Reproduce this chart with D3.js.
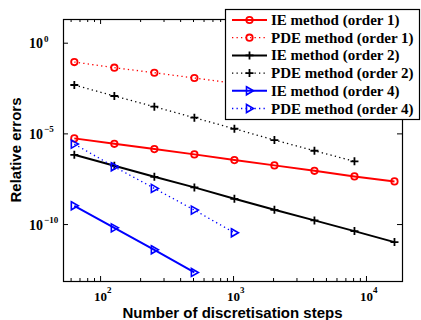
<!DOCTYPE html>
<html>
<head>
<meta charset="utf-8">
<script src="https://cdn.jsdelivr.net/npm/d3@7"></script>
<style>
  body { margin: 0; background: #fff; }
  svg { display: block; }
</style>
</head>
<body>
<div id="chart"></div>
<script>
var svgWidth = 421;
var svgHeight = 320;

// discretisation steps (x values)
var steps = [64, 128, 256, 512, 1024, 2048, 4096, 8192, 16384];

// relative errors
var ieOrder1 = [5.3e-6, 2.67e-6, 1.36e-6, 6.95e-7, 3.37e-7, 1.72e-7, 8.65e-8, 4.25e-8, 2.25e-8];
var pdeOrder1 = [0.086, 0.0418, 0.0221, 0.0113, 5.8e-3, 2.95e-3, 1.5e-3, 7.7e-4];
var ieOrder2 = [6.6e-7, 1.63e-7, 4.04e-8, 1.05e-8, 2.47e-9, 6.1e-10, 1.59e-10, 4.08e-11, 1.01e-11];
var pdeOrder2 = [4.64e-3, 1.15e-3, 2.95e-4, 7.3e-5, 1.8e-5, 4.3e-6, 1.1e-6, 2.87e-7];
var ieOrder4 = [1.02e-9, 6.2e-11, 3.8e-12, 2.15e-13];
var pdeOrder4 = [2.57e-6, 1.44e-7, 9.25e-9, 5.9e-10, 3.29e-11];

var xTickExps = [2, 3, 4];
var yTickExps = [0, -5, -10];

var seriesNames = ["IE method (order 1)", "PDE method (order 1)", "IE method (order 2)",
  "PDE method (order 2)", "IE method (order 4)", "PDE method (order 4)"];

var series = [
  {name: seriesNames[0], values: ieOrder1, color: "#ff0000", dotted: false, marker: "circle"},
  {name: seriesNames[1], values: pdeOrder1, color: "#ff0000", dotted: true, marker: "circle"},
  {name: seriesNames[2], values: ieOrder2, color: "#000000", dotted: false, marker: "plus"},
  {name: seriesNames[3], values: pdeOrder2, color: "#000000", dotted: true, marker: "plus"},
  {name: seriesNames[4], values: ieOrder4, color: "#0000ff", dotted: false, marker: "tri"},
  {name: seriesNames[5], values: pdeOrder4, color: "#0000ff", dotted: true, marker: "tri"}
];

var plot = {left: 63, right: 402, top: 19, bottom: 281};

var svg = d3.select("#chart")
  .append("svg")
  .attr("width", svgWidth)
  .attr("height", svgHeight);

var x = d3.scaleLog()
  .domain([Math.pow(10, 1.721), Math.pow(10, 4.271)])
  .range([plot.left, plot.right]);

var y = d3.scaleLog()
  .domain([Math.pow(10, 1.307), Math.pow(10, -13.14)])
  .range([plot.top, plot.bottom]);

// minor ticks on x (2..9 per decade)
var xMinor = [];
for (var e = 1; e <= 4; e++) {
  for (var m = 2; m <= 9; m++) {
    var v = m * Math.pow(10, e);
    if (v > x.domain()[0] && v < x.domain()[1]) xMinor.push(v);
  }
}
var xMajor = xTickExps.map(d => Math.pow(10, d));
var yMajor = yTickExps.map(d => Math.pow(10, d));

function styleAxis(g) {
  g.select(".domain").remove();
  g.selectAll("line").attr("stroke", "#000").attr("stroke-width", 1);
}

// bottom / top axes, ticks pointing inward
svg.append("g").attr("transform", `translate(0,${plot.bottom})`)
  .call(d3.axisBottom(x).tickValues(xMajor).tickSize(-5).tickFormat("")).call(styleAxis);
svg.append("g").attr("transform", `translate(0,${plot.bottom})`)
  .call(d3.axisBottom(x).tickValues(xMinor).tickSize(-3).tickFormat("")).call(styleAxis);
svg.append("g").attr("transform", `translate(0,${plot.top})`)
  .call(d3.axisTop(x).tickValues(xMajor).tickSize(-5).tickFormat("")).call(styleAxis);
svg.append("g").attr("transform", `translate(0,${plot.top})`)
  .call(d3.axisTop(x).tickValues(xMinor).tickSize(-3).tickFormat("")).call(styleAxis);
svg.append("g").attr("transform", `translate(${plot.left},0)`)
  .call(d3.axisLeft(y).tickValues(yMajor).tickSize(-5).tickFormat("")).call(styleAxis);
svg.append("g").attr("transform", `translate(${plot.right},0)`)
  .call(d3.axisRight(y).tickValues(yMajor).tickSize(-5).tickFormat("")).call(styleAxis);

// box
svg.append("rect")
  .attr("x", plot.left + 0.5).attr("y", plot.top + 0.5)
  .attr("width", plot.right - plot.left).attr("height", plot.bottom - plot.top)
  .attr("fill", "none").attr("stroke", "#000").attr("stroke-width", 1.2);

// tick labels with superscript exponents
var tickFont = "'Liberation Serif', 'Times New Roman', serif";
xTickExps.forEach(function(ex) {
  var t = svg.append("text")
    .attr("x", x(Math.pow(10, ex)) - 6)
    .attr("y", 300.5)
    .attr("font-family", tickFont)
    .attr("font-weight", "bold")
    .attr("font-size", "13px");
  t.append("tspan").text("10");
  t.append("tspan").attr("dy", -8).attr("font-size", "9px").text(ex);
});
yTickExps.forEach(function(ex) {
  var yy = y(Math.pow(10, ex));
  svg.append("text")
    .attr("x", 43).attr("y", yy + 5.5)
    .attr("text-anchor", "end")
    .attr("font-family", tickFont).attr("font-weight", "bold").attr("font-size", "14px")
    .text("10");
  svg.append("text")
    .attr("x", 44).attr("y", yy - 1)
    .attr("font-family", tickFont).attr("font-weight", "bold").attr("font-size", "9px")
    .text(ex < 0 ? "\u2212" + (-ex) : ex);
});

// axis titles
var labelFont = "'Liberation Sans', Arial, Helvetica, sans-serif";
svg.append("text")
  .attr("x", (plot.left + plot.right) / 2).attr("y", 318)
  .attr("text-anchor", "middle")
  .attr("font-family", labelFont).attr("font-weight", "bold").attr("font-size", "15px")
  .text("Number of discretisation steps");
svg.append("text")
  .attr("transform", `translate(21, ${(plot.top + plot.bottom) / 2}) rotate(-90)`)
  .attr("text-anchor", "middle")
  .attr("font-family", labelFont).attr("font-weight", "bold").attr("font-size", "15px")
  .text("Relative errors");

// markers
function drawMarker(g, type, color, cx, cy) {
  if (type === "circle") {
    g.append("circle").attr("cx", cx).attr("cy", cy).attr("r", 3.2)
      .attr("fill", "none").attr("stroke", color).attr("stroke-width", 1.8);
  } else if (type === "plus") {
    g.append("path")
      .attr("d", `M${cx - 4},${cy}H${cx + 4}M${cx},${cy - 4}V${cy + 4}`)
      .attr("stroke", color).attr("stroke-width", 1.8).attr("fill", "none");
  } else {
    g.append("path")
      .attr("d", `M${cx - 3},${cy - 4}L${cx + 4},${cy}L${cx - 3},${cy + 4}Z`)
      .attr("stroke", color).attr("stroke-width", 1.6).attr("fill", "none");
  }
}

var line = d3.line()
  .x((d, i) => x(steps[i]))
  .y(d => y(d));

series.forEach(function(s) {
  var g = svg.append("g");
  g.append("path")
    .datum(s.values)
    .attr("d", line)
    .attr("fill", "none")
    .attr("stroke", s.color)
    .attr("stroke-width", s.dotted ? 1.3 : 2)
    .attr("stroke-dasharray", s.dotted ? "1.3,3.2" : null);
  s.values.forEach(function(v, i) {
    drawMarker(g, s.marker, s.color, x(steps[i]), y(v));
  });
});

// legend
var legend = svg.append("g");
legend.append("rect")
  .attr("x", 225.5).attr("y", 9.5).attr("width", 194).attr("height", 110)
  .attr("fill", "#fff").attr("stroke", "#000").attr("stroke-width", 1.2);

series.forEach(function(s, i) {
  var ly = 20 + i * 17.7;
  legend.append("line")
    .attr("x1", 232).attr("x2", 267).attr("y1", ly).attr("y2", ly)
    .attr("stroke", s.color)
    .attr("stroke-width", s.dotted ? 1.3 : 2)
    .attr("stroke-dasharray", s.dotted ? "1.3,3.2" : null);
  drawMarker(legend, s.marker, s.color, 249.5, ly);
  legend.append("text")
    .attr("x", 271).attr("y", ly + 5)
    .attr("font-family", tickFont).attr("font-weight", "bold").attr("font-size", "15px")
    .text(s.name);
});
</script>
</body>
</html>
